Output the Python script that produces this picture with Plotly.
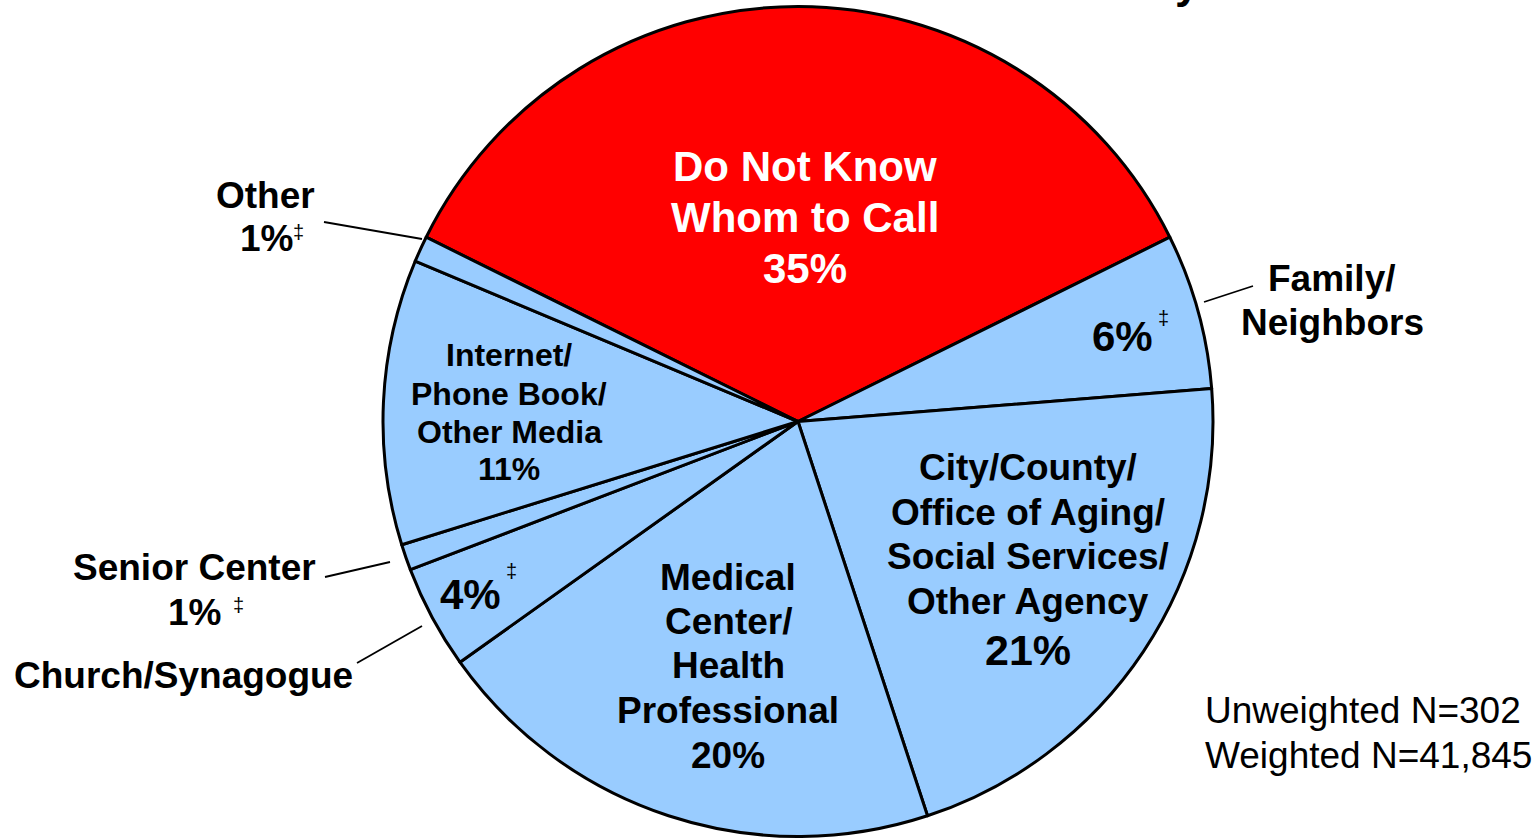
import plotly.graph_objects as go

W, H = 1537, 838

# slice data, clockwise from the top
labels = ["Do Not Know Whom to Call", "Family/Neighbors",
          "City/County/Office of Aging/Social Services/Other Agency",
          "Medical Center/Health Professional", "Church/Synagogue",
          "Senior Center", "Internet/Phone Book/Other Media", "Other"]
values = [35, 6, 21, 20, 4, 1, 11, 1]
colors = ["#FF0000", "#99CCFF", "#99CCFF", "#99CCFF", "#99CCFF",
          "#99CCFF", "#99CCFF", "#99CCFF"]

unweighted_n = 302
weighted_n = 41845

FONT = "Arial, Liberation Sans, sans-serif"


def px(x):
    return x / W


def py(y):
    return 1 - y / H


fig = go.Figure()

fig.add_trace(go.Pie(
    labels=labels,
    values=values,
    marker=dict(colors=colors, line=dict(color="black", width=3)),
    sort=False,
    direction="clockwise",
    rotation=-values[0] / sum(values) * 180,
    textinfo="none",
    hoverinfo="label+percent",
    showlegend=False,
    domain=dict(x=[px(383), px(1213)], y=[py(836.5), py(6.5)]),
))

annots = []


def text(s, x, y, size=37, color="black", bold=True, xanchor="center"):
    annots.append(dict(
        text=f"<b>{s}</b>" if bold else s,
        x=px(x), y=py(y), xref="paper", yref="paper",
        xanchor=xanchor, yanchor="middle", showarrow=False,
        font=dict(family=FONT, size=size, color=color),
    ))


def block(lines, x, ys, size=37, color="black"):
    for s, y in zip(lines, ys):
        text(s, x, y, size=size, color=color)


# labels inside the slices
block(["Do Not Know", "Whom to Call", f"{values[0]}%"], 805, [166, 217, 268],
      size=42, color="white")
text(f"{values[1]}%", 1122, 336, size=42)
text("‡", 1163, 318, size=20, bold=False)
block(["City/County/", "Office of Aging/", "Social Services/", "Other Agency"],
      1028, [467, 512, 556, 601])
text(f"{values[2]}%", 1028, 650, size=43)
block(["Medical", "Center/", "Health", "Professional", f"{values[3]}%"],
      728, [577, 621, 665, 710, 755])
text(f"{values[4]}%", 470, 594, size=42)
text("‡", 511, 571, size=20, bold=False)
block(["Internet/", "Phone Book/", "Other Media", f"{values[6]}%"],
      509, [355, 394, 432, 469], size=32)

# labels outside the pie
block(["Family/", "Neighbors"], 1332, [278, 322])
text("Other", 265, 196)
text(f"{values[7]}%", 266, 238)
text("‡", 298, 232, size=20, bold=False)
text("Senior Center", 194, 567)
text(f"{values[5]}%", 194, 612)
text("‡", 238, 605, size=20, bold=False)
text("Church/Synagogue", 183, 675)

# sample sizes
text(f"Unweighted N={unweighted_n}", 1203, 710, size=37, bold=False, xanchor="left")
text(f"Weighted N={weighted_n:,}", 1203, 755, size=37, bold=False, xanchor="left")

# cropped title, only the descender shows
annots.append(dict(text="<b>y</b>", x=px(1187), y=py(-18), xref="paper", yref="paper",
                   xanchor="center", yanchor="middle", showarrow=False,
                   font=dict(family=FONT, size=44, color="black")))

# leader lines
leaders = [((324, 222), (422, 239)), ((1204, 302), (1253, 286)),
           ((325, 577), (390, 562)), ((357, 663), (422, 626))]
shapes = [dict(type="line", xref="paper", yref="paper",
               x0=px(a[0]), y0=py(a[1]), x1=px(b[0]), y1=py(b[1]),
               line=dict(color="black", width=1.8)) for a, b in leaders]

fig.update_layout(
    width=W, height=H,
    margin=dict(l=0, r=0, t=0, b=0),
    paper_bgcolor="white", plot_bgcolor="white",
    annotations=annots, shapes=shapes,
)

# drop the page's default body margin so the figure sits at the window corner
fig.write_html("out.html", config={"displayModeBar": False},
               post_script="document.body.style.margin = '0';")
